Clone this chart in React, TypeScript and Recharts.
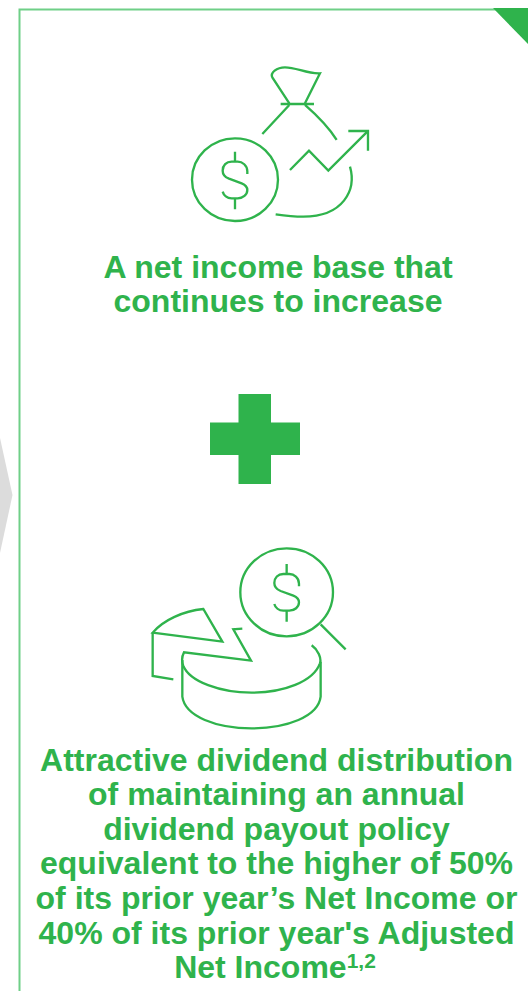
import { Surface, Layer } from "recharts"

const W = 528
const H = 991
const GREEN = "#2fb34c"
const FONT = '"Liberation Sans", Arial, sans-serif'

const incomeLines = ["A net income base that", "continues to increase"]
const dividendLines = [
  "Attractive dividend distribution",
  "of maintaining an annual",
  "dividend payout policy",
  "equivalent to the higher of 50%",
  "of its prior year\u2019s Net Income or",
  "40% of its prior year's Adjusted",
]
const lastLine = "Net Income"
const footnoteMarks = "1,2"

// dollar sign, drawn around its own centre
function Dollar({ x, y }: { x: number; y: number }) {
  return (
    <g transform={`translate(${x} ${y})`}>
      <path d="M0,-85 V-55 M0,55 V88" />
      <path d="M37,-18 V-26 C37,-44 22,-55 8,-55 H-10 C-26,-55 -37,-44 -37,-28 C-37,-14 -28,-8 -18,-4 L20,10 C30,14 37,20 37,30 C37,44 24,55 8,55 H-10 C-24,55 -34,46 -37,35" />
    </g>
  )
}

function MoneyBag() {
  return (
    <g transform="translate(170 50) scale(0.3333)" fill="none" stroke={GREEN} strokeWidth={7}>
      <ellipse cx={195} cy={389} rx={129} ry={124} />
      <Dollar x={195} y={390} />
      <path d="M358,160 L307,82 C300,68 320,52 345,52 C380,52 410,72 450,70 L405,160" />
      <path d="M332,162 H432" />
      <path d="M358,165 C330,195 305,222 277,252" />
      <path d="M405,165 C445,200 475,230 500,270" />
      <path d="M360,360 L417,302 L475,362 L592,245" />
      <path d="M535,243 H594 V302" />
      <path d="M540,350 C560,420 520,500 400,500 C370,500 345,497 317,493" />
    </g>
  )
}

function PieSearch() {
  return (
    <g transform="translate(140 540) scale(0.3333)" fill="none" stroke={GREEN} strokeWidth={7}>
      <ellipse cx={440} cy={157} rx={139} ry={132} />
      <Dollar x={440} y={157} />
      <path d="M542,253 L617,328" />
      <path d="M38,278 C70,240 130,213 190,207 L247,305 Z" />
      <path d="M38,278 V408 L100,418" />
      <path d="M307,266 L280,268 L333,362 L132,337 C125,350 125,365 130,378 C150,425 240,458 335,458 C430,458 520,425 540,370 C545,355 535,330 515,316" />
      <path d="M127,360 V470 C135,530 230,565 335,565 C440,565 535,530 542,470 V365" />
    </g>
  )
}

export default function App() {
  return (
    <div style={{ position: "absolute", left: 0, top: 0, width: W, height: H }}>
      <Surface width={W} height={H} viewBox={{ x: 0, y: 0, width: W, height: H }}>
        <rect x={0} y={0} width={W} height={H} fill="#ffffff" />

        {/* grey arrow poking in from the previous panel */}
        <polygon points="0,438 12.5,495 0,553" fill="#dcdcdc" />

        {/* panel border + corner */}
        <path d="M19.5,991 V9.5 H528" fill="none" stroke="#6fcf87" strokeWidth={2} />
        <polygon points="493,8 528,8 528,44" fill={GREEN} />

        <Layer>
          <MoneyBag />
          <PieSearch />
        </Layer>

        {/* plus sign */}
        <path d="M238.5,394 H271 V422.5 H300 V455 H271 V484 H238.5 V455 H210 V422.5 H238.5 Z" fill={GREEN} />

        <g fontFamily={FONT} fontWeight="bold" fontSize={32} fill={GREEN} textAnchor="middle">
          {incomeLines.map((line, i) => (
            <text key={line} x={278} y={278 + i * 34}>
              {line}
            </text>
          ))}
          {dividendLines.map((line, i) => (
            <text key={line} x={276.5} y={770.5 + i * 34.6}>
              {line}
            </text>
          ))}
          <text x={275} y={977.5}>
            {lastLine}
            <tspan fontSize={21} dy={-9.5}>
              {footnoteMarks}
            </tspan>
          </text>
        </g>
      </Surface>
    </div>
  )
}
